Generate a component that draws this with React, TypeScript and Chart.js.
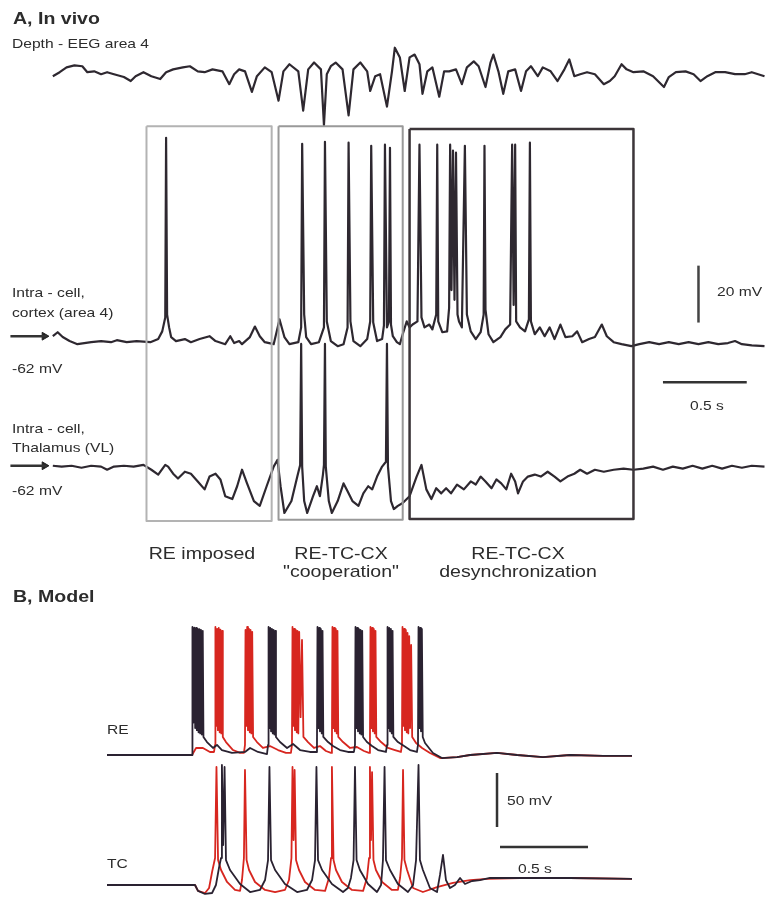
import React, { useEffect, useRef } from "react";
import { Chart, registerables } from "chart.js";
Chart.register(...registerables);

type P = [number, number];

// ---------- Panel A (time in s, voltage in mV; EEG in arbitrary units) ----------
const EEG: P[] = [
  [0.0, -0.7], [0.041, 0.7], [0.082, 2.4], [0.129, 3.1], [0.176, 2.8], [0.206, 0.7], [0.247, 1.0],
  [0.288, 0], [0.324, 0.7], [0.365, 0], [0.424, -1.0], [0.465, -2.4], [0.494, -0.7], [0.541, 0.7],
  [0.588, -0.7], [0.641, -1.7], [0.676, 0.7], [0.718, 1.7], [0.776, 2.4], [0.818, 2.8], [0.865, 1.0],
  [0.906, 0.7], [0.953, 1.7], [1.012, 1.0], [1.053, -3.5], [1.082, 0], [1.112, 1.7], [1.147, 1.0],
  [1.188, -6.2], [1.218, -0.7], [1.265, 2.4], [1.306, 0.7], [1.347, -9.3], [1.376, 1.0], [1.412, 3.5],
  [1.465, 1.0], [1.494, -12.8], [1.524, 1.7], [1.559, 4.1], [1.6, 1.7], [1.618, -17.9], [1.635, 0],
  [1.659, 2.8], [1.688, 4.1], [1.729, 1.7], [1.765, -14.5], [1.794, 1.7], [1.835, 4.1], [1.876, 1.0],
  [1.894, -5.9], [1.924, -0.7], [1.953, 0], [1.994, -11.4], [2.024, 1.0], [2.041, 9.3], [2.071, 5.9],
  [2.1, -5.9], [2.129, 5.9], [2.159, 6.9], [2.188, 3.5], [2.206, -6.9], [2.235, 1.0], [2.265, 2.4],
  [2.306, -7.9], [2.335, 1.0], [2.365, 1.0], [2.406, 1.7], [2.441, -3.5], [2.471, 2.4], [2.512, 4.5],
  [2.541, 2.8], [2.582, -4.5], [2.612, 4.1], [2.629, 6.9], [2.659, 1.0], [2.688, -6.9], [2.718, 1.0],
  [2.759, 1.7], [2.794, -5.9], [2.824, 1.0], [2.853, 2.8], [2.894, -0.7], [2.924, 2.4], [2.971, 1.0],
  [3.012, -2.4], [3.053, 1.7], [3.082, 5.2], [3.112, -0.7], [3.147, 0], [3.188, 0.7], [3.235, 0],
  [3.288, -3.5], [3.324, -2.4], [3.353, -0.7], [3.394, 3.5], [3.424, 1.7], [3.465, 0.7], [3.524, 1.0],
  [3.582, -0.7], [3.647, -4.5], [3.676, -1.0], [3.718, 0.7], [3.776, 1.0], [3.824, 0], [3.865, -2.4],
  [3.906, -0.7], [3.953, 0.7], [4.012, 0.7], [4.071, 0], [4.129, 0], [4.171, 0.7], [4.247, -0.7],
];

const CORTEX: P[] = [
  [0.0, -62.0], [0.029, -60.6], [0.059, -62.3], [0.1, -63.7], [0.147, -64.8], [0.229, -64.1],
  [0.288, -63.7], [0.347, -64.1], [0.382, -63.4], [0.441, -64.1], [0.5, -63.7], [0.582, -64.1],
  [0.629, -63.0], [0.653, -60.3], [0.671, -55.4], [0.676, 7.7], [0.682, -54.4], [0.694, -58.9],
  [0.706, -62.3], [0.735, -63.7], [0.788, -63.0], [0.824, -64.1], [0.876, -63.0], [0.935, -62.0],
  [0.971, -63.7], [1.029, -64.8], [1.059, -62.0], [1.082, -64.4], [1.112, -63.7], [1.129, -64.8],
  [1.176, -62.3], [1.206, -58.6], [1.235, -62.0], [1.265, -64.1], [1.318, -64.8], [1.353, -56.1],
  [1.382, -62.3], [1.412, -64.8], [1.465, -64.1], [1.482, -58.9], [1.488, 5.6], [1.5, -54.4],
  [1.512, -62.3], [1.541, -64.8], [1.588, -64.1], [1.618, -58.9], [1.624, 6.3], [1.635, -56.8],
  [1.659, -63.7], [1.7, -65.5], [1.735, -64.8], [1.759, -58.9], [1.765, 6.0], [1.776, -56.8],
  [1.794, -63.7], [1.835, -65.5], [1.876, -63.0], [1.894, -56.8], [1.9, 4.9], [1.912, -57.2],
  [1.935, -63.7], [1.965, -63.0], [1.976, -58.2], [1.982, 5.3], [1.994, -58.9], [2.006, -56.8],
  [2.012, 4.2], [2.018, -57.9], [2.029, -62.0], [2.053, -64.1], [2.071, -64.8], [2.088, -61.3],
  [2.112, -56.8], [2.129, -58.9], [2.147, -57.9], [2.176, -56.8], [2.188, 5.3], [2.2, -55.4],
  [2.218, -58.9], [2.247, -57.9], [2.265, -59.6], [2.288, -54.4], [2.294, 5.3], [2.3, -56.8],
  [2.324, -60.6], [2.353, -60.3], [2.365, -52.0], [2.371, 5.3], [2.379, -45.8], [2.388, 3.2],
  [2.397, -49.2], [2.406, 2.5], [2.415, -54.4], [2.424, -56.8], [2.441, -58.9], [2.459, 4.9],
  [2.471, -54.4], [2.494, -60.3], [2.524, -63.0], [2.553, -60.6], [2.571, -54.4], [2.576, 4.9],
  [2.582, -52.7], [2.6, -61.3], [2.629, -64.1], [2.671, -62.3], [2.7, -59.6], [2.729, -57.9],
  [2.741, 5.3], [2.75, -51.0], [2.759, 5.3], [2.765, -56.8], [2.788, -58.9], [2.818, -60.3],
  [2.841, -56.1], [2.847, 6.0], [2.853, -56.8], [2.876, -61.3], [2.906, -58.9], [2.935, -62.0],
  [2.965, -58.9], [2.994, -63.0], [3.029, -57.9], [3.059, -62.3], [3.1, -62.0], [3.129, -60.3],
  [3.159, -64.1], [3.2, -63.0], [3.235, -62.3], [3.276, -57.9], [3.306, -62.0], [3.347, -64.1],
  [3.394, -64.8], [3.453, -65.5], [3.5, -64.8], [3.559, -64.1], [3.618, -64.8], [3.676, -64.1],
  [3.735, -64.8], [3.794, -64.1], [3.853, -64.8], [3.912, -64.1], [3.971, -64.8], [4.029, -64.4],
  [4.071, -63.7], [4.112, -64.8], [4.171, -65.2], [4.247, -65.5],
];

const THALAMUS: P[] = [
  [0.0, -62.0], [0.053, -62.3], [0.112, -62.0], [0.171, -62.7], [0.229, -62.0], [0.288, -62.3],
  [0.324, -63.4], [0.365, -62.3], [0.424, -62.0], [0.482, -62.3], [0.541, -61.7], [0.588, -63.4],
  [0.629, -65.1], [0.671, -61.7], [0.688, -62.3], [0.718, -64.8], [0.747, -66.5], [0.788, -64.1],
  [0.824, -64.8], [0.865, -67.5], [0.906, -70.3], [0.935, -65.8], [0.971, -64.8], [1.0, -66.8],
  [1.029, -72.7], [1.071, -73.7], [1.1, -69.2], [1.129, -63.4], [1.159, -68.2], [1.2, -74.4],
  [1.235, -76.1], [1.276, -69.2], [1.318, -62.3], [1.341, -59.9], [1.359, -69.2], [1.382, -78.6],
  [1.424, -74.4], [1.459, -65.8], [1.476, -61.7], [1.482, -19.2], [1.488, -62.3], [1.5, -74.4],
  [1.518, -78.6], [1.553, -72.7], [1.576, -69.2], [1.594, -72.7], [1.612, -65.1], [1.618, -61.7],
  [1.624, -19.2], [1.629, -62.3], [1.647, -74.4], [1.665, -78.6], [1.7, -74.4], [1.735, -68.2],
  [1.759, -71.0], [1.788, -74.4], [1.824, -76.1], [1.853, -71.7], [1.882, -69.2], [1.906, -70.3],
  [1.935, -65.8], [1.965, -62.3], [1.988, -60.6], [1.994, -19.2], [2.0, -62.3], [2.018, -74.4],
  [2.035, -77.2], [2.059, -76.1], [2.088, -75.1], [2.129, -72.7], [2.171, -65.8], [2.2, -61.7],
  [2.229, -70.3], [2.259, -73.7], [2.288, -69.9], [2.318, -71.7], [2.347, -69.9], [2.376, -71.7],
  [2.412, -68.6], [2.453, -70.3], [2.494, -67.5], [2.524, -68.6], [2.553, -65.8], [2.582, -67.5],
  [2.618, -69.9], [2.647, -66.8], [2.676, -68.2], [2.706, -70.3], [2.735, -64.8], [2.759, -67.5],
  [2.776, -71.7], [2.806, -67.5], [2.835, -65.8], [2.876, -65.1], [2.912, -65.8], [2.953, -64.1],
  [2.994, -65.8], [3.029, -67.5], [3.071, -65.8], [3.112, -64.8], [3.147, -63.4], [3.188, -64.8],
  [3.235, -63.4], [3.288, -64.1], [3.347, -63.4], [3.406, -63.0], [3.465, -63.4], [3.524, -63.0],
  [3.582, -62.3], [3.641, -63.4], [3.7, -62.3], [3.759, -63.0], [3.818, -62.0], [3.876, -63.0],
  [3.935, -62.0], [3.994, -63.0], [4.053, -62.0], [4.112, -62.7], [4.171, -62.0], [4.247, -62.3],
];

// epochs (s) of the three boxes and their labels
const EPOCH_START = [0.559, 1.347, 2.129];
const EPOCH_END = [1.306, 2.088, 3.465];
const EPOCH_LABELS = [["RE imposed"], ["RE-TC-CX", "\"cooperation\""], ["RE-TC-CX", "desynchronization"]];

// ---------- Panel B, Model (time in s, voltage in mV) ----------
const RE_BLACK: P[] = [
  [0.0, -75.0], [0.483, -75.0], [0.484, -68.0],
  [0.487, 43.5], [0.4915, -45.0], [0.496, 43.0], [0.501, -50.0], [0.506, 42.6], [0.5105, -52.0],
  [0.515, 42.0], [0.52, -54.0], [0.525, 41.5], [0.5295, -55.0], [0.534, 40.8], [0.539, -56.0],
  [0.544, 40.0], [0.548, -58.3],
  [0.568, -63.0], [0.602, -68.5], [0.625, -65.7], [0.653, -70.4], [0.71, -73.1], [0.784, -72.2],
  [0.813, -68.5], [0.858, -72.2], [0.909, -74.1], [0.915, -65.7],
  [0.918, 43.5], [0.923, -50.0], [0.9275, 42.6], [0.932, -53.0], [0.937, 41.7], [0.942, -55.0],
  [0.9465, 40.8], [0.951, -56.0], [0.956, 40.0], [0.96, -58.3],
  [0.983, -63.0], [1.023, -68.5], [1.057, -64.8], [1.097, -70.4], [1.153, -72.2], [1.188, -72.2],
  [1.193, -65.7],
  [1.196, 43.5], [1.201, -50.0], [1.2055, 42.6], [1.21, -53.0], [1.215, 41.7], [1.22, -55.0],
  [1.2245, 40.0], [1.229, -58.3],
  [1.256, -63.0], [1.284, -66.7], [1.324, -70.4], [1.369, -72.2], [1.403, -72.2], [1.409, -65.7],
  [1.412, 43.5], [1.417, -50.0], [1.4215, 42.6], [1.426, -53.0], [1.431, 41.7], [1.436, -55.0],
  [1.4405, 40.8], [1.445, -56.0], [1.45, 40.0], [1.455, -58.3],
  [1.477, -63.0], [1.506, -66.7], [1.54, -70.4], [1.585, -72.2], [1.591, -65.7],
  [1.594, 43.5], [1.599, -50.0], [1.6035, 42.6], [1.608, -53.0], [1.613, 41.7], [1.618, -55.0],
  [1.6225, 40.0], [1.627, -58.3],
  [1.653, -63.0], [1.688, -66.7], [1.722, -70.4], [1.761, -72.2], [1.767, -65.7],
  [1.77, 43.5], [1.775, -50.0], [1.7795, 42.6], [1.784, -53.0], [1.789, 41.7], [1.794, -58.3],
  [1.807, -63.9], [1.852, -73.1], [1.903, -77.8], [1.989, -76.9], [2.063, -75.0], [2.216, -73.1],
  [2.33, -75.0], [2.477, -76.9], [2.631, -75.0], [2.818, -75.9], [2.983, -75.9],
];

const RE_RED: P[] = [
  [0.0, -75.0], [0.483, -75.0], [0.506, -68.5], [0.545, -68.5], [0.585, -72.2], [0.608, -72.2],
  [0.614, -65.7],
  [0.616, 43.5], [0.621, -48.0], [0.6255, 41.7], [0.63, -52.0], [0.635, 42.6], [0.64, -54.0],
  [0.6445, 41.0], [0.649, -55.0], [0.654, 40.0], [0.658, -58.3],
  [0.676, -63.0], [0.716, -70.4], [0.756, -73.1], [0.778, -73.1], [0.784, -65.7],
  [0.787, 40.8], [0.792, -48.0], [0.7965, 43.5], [0.801, -52.0], [0.806, 42.0], [0.811, -54.0],
  [0.8155, 40.8], [0.82, -55.0], [0.825, 39.0], [0.83, -58.3],
  [0.852, -63.0], [0.886, -68.5], [0.926, -66.7], [0.972, -70.4], [1.017, -73.1], [1.045, -73.1],
  [1.051, -65.7],
  [1.054, 43.5], [1.059, -48.0], [1.0635, 41.7], [1.068, -52.0], [1.073, 40.8], [1.078, -54.0],
  [1.0825, 39.9], [1.087, -55.0], [1.092, 38.9], [1.1, -40.0], [1.108, 31.5], [1.116, -58.3],
  [1.142, -63.0], [1.176, -68.5], [1.21, -66.7], [1.244, -71.3], [1.273, -73.1], [1.278, -65.7],
  [1.281, 43.5], [1.286, -50.0], [1.2905, 42.6], [1.295, -53.0], [1.3, 41.7], [1.305, -55.0],
  [1.3095, 40.0], [1.314, -58.3],
  [1.341, -63.0], [1.381, -68.5], [1.42, -67.6], [1.46, -71.3], [1.489, -73.1], [1.494, -65.7],
  [1.497, 43.5], [1.502, -50.0], [1.5065, 42.6], [1.511, -53.0], [1.516, 41.7], [1.521, -55.0],
  [1.5255, 40.0], [1.53, -58.3],
  [1.557, -63.0], [1.597, -68.5], [1.636, -70.4], [1.67, -72.2], [1.676, -65.7],
  [1.679, 43.5], [1.684, -48.0], [1.6885, 41.7], [1.693, -52.0], [1.698, 40.8], [1.703, -54.0],
  [1.7075, 38.0], [1.712, -55.0], [1.717, 35.0], [1.722, -50.0], [1.728, 26.9], [1.734, -58.3],
  [1.756, -63.9], [1.79, -68.5], [1.835, -73.1], [1.892, -77.8], [1.989, -76.9], [2.063, -75.0],
  [2.216, -73.1], [2.33, -75.0], [2.477, -76.9], [2.631, -75.0], [2.818, -75.9], [2.983, -75.9],
];

const TC_BLACK: P[] = [
  [0.0, -65.0], [0.5, -65.0], [0.517, -70.5], [0.557, -73.3], [0.597, -72.4], [0.619, -65.0],
  [0.636, -49.3], [0.648, -40.0], [0.653, 46.1], [0.66, -28.0], [0.668, 44.3], [0.676, -41.9],
  [0.699, -51.1], [0.756, -64.1], [0.813, -71.5], [0.869, -69.6], [0.898, -60.4], [0.915, -41.9],
  [0.923, 44.3], [0.932, -41.9], [0.955, -51.1], [1.011, -64.1], [1.08, -71.5], [1.136, -69.6],
  [1.165, -60.4], [1.182, -41.9], [1.19, 44.3], [1.199, -41.9], [1.222, -51.1], [1.278, -64.1],
  [1.341, -71.5], [1.369, -67.8], [1.386, -58.5], [1.401, -41.9], [1.409, 44.3], [1.418, -41.9],
  [1.437, -51.1], [1.483, -64.1], [1.534, -71.5], [1.557, -65.0], [1.568, -41.9], [1.577, 44.3],
  [1.585, -41.9], [1.608, -51.1], [1.653, -64.1], [1.71, -71.5], [1.739, -65.0], [1.756, -41.9],
  [1.77, 46.1], [1.778, -41.9], [1.795, -51.1], [1.835, -67.8], [1.875, -71.5], [1.892, -55.7],
  [1.909, -37.2], [1.926, -60.4], [1.949, -67.8], [1.977, -65.0], [2.006, -58.5], [2.034, -64.1],
  [2.074, -61.3], [2.119, -60.4], [2.176, -58.5], [2.347, -58.5], [2.631, -58.5], [2.983, -59.4],
];

const TC_RED: P[] = [
  [0.0, -65.0], [0.5, -65.0], [0.517, -70.5], [0.557, -72.4], [0.58, -67.8], [0.597, -53.0],
  [0.614, -40.0], [0.622, 44.3], [0.631, -41.9], [0.648, -51.1], [0.682, -62.2], [0.727, -69.6],
  [0.756, -70.5], [0.767, -60.4], [0.778, -40.0], [0.784, 41.5], [0.793, -41.9], [0.807, -51.1],
  [0.841, -62.2], [0.898, -69.6], [0.955, -71.5], [1.011, -69.6], [1.034, -60.4], [1.048, -40.0],
  [1.054, 44.3], [1.06, -23.4], [1.066, 41.5], [1.074, -41.9], [1.091, -51.1], [1.125, -62.2],
  [1.182, -69.6], [1.239, -70.5], [1.261, -58.5], [1.273, -40.0], [1.278, 44.3], [1.287, -41.9],
  [1.301, -51.1], [1.335, -62.2], [1.392, -69.6], [1.455, -70.5], [1.477, -58.5], [1.489, -40.0],
  [1.494, 44.3], [1.5, -23.4], [1.506, 39.6], [1.514, -41.9], [1.528, -51.1], [1.563, -62.2],
  [1.619, -69.6], [1.653, -69.6], [1.665, -58.5], [1.676, -40.0], [1.682, 41.5], [1.69, -41.9],
  [1.705, -51.1], [1.739, -67.8], [1.795, -71.5], [1.875, -66.9], [1.966, -63.1], [2.063, -60.4],
  [2.159, -59.4], [2.347, -58.5], [2.631, -58.5], [2.983, -59.4],
];

// scale bars
const SCALE_A_MV = 20;
const SCALE_A_S = 0.5;
const SCALE_B_MV = 50;
const SCALE_B_S = 0.5;
const REST_MV = -62;

const FONT = '"Liberation Sans", Arial, Helvetica, sans-serif';
const INK = "#2e2830";
const RED = "#d7261f";
const MODEL_INK = "#2a2231";

const xy = (a: P[]) => a.map(([x, y]) => ({ x, y }));

function trace(data: P[], yAxisID: string, color: string, width = 2) {
  return {
    type: "line" as const,
    data: xy(data),
    yAxisID,
    borderColor: color,
    borderWidth: width,
    pointRadius: 0,
    tension: 0,
    fill: false,
    clip: false as any,
    borderJoinStyle: "round" as const,
  };
}

function segment(x1: number, y1: number, x2: number, y2: number, yAxisID: string, color: string, width: number) {
  return trace([[x1, y1], [x2, y2]], yAxisID, color, width);
}

function PanelA() {
  const ref = useRef<HTMLCanvasElement>(null);
  useEffect(() => {
    const pxPerS = 170;
    const pxPerMV = 2.9;
    const H = 590;
    const cxMax = REST_MV + 337 / pxPerMV;
    const thMax = REST_MV + 469 / pxPerMV;
    const eegMax = 70 / pxPerMV;
    const span = H / pxPerMV;
    const boxColors = ["#b3b3b3", "#999999", "#3c3539"];
    const boxWidths = [2, 2, 2.5];
    const boxTop = [11.8, 11.8, 10.8];
    const boxBottom = [-126.9, -126.5, -126.2];
    const datasets: any[] = [];
    EPOCH_START.forEach((s, i) => {
      const e = EPOCH_END[i];
      datasets.push(
        trace(
          [[s, boxTop[i]], [e, boxTop[i]], [e, boxBottom[i]], [s, boxBottom[i]], [s, boxTop[i]]],
          "yCx",
          boxColors[i],
          boxWidths[i]
        )
      );
    });
    datasets.push(trace(EEG, "yEeg", INK, 2.2));
    datasets.push(trace(CORTEX, "yCx", INK, 2.2));
    datasets.push(trace(THALAMUS, "yTh", INK, 2.2));
    // arrows at -62 mV
    datasets.push(segment(-0.253, REST_MV, -0.035, REST_MV, "yCx", "#333", 2.5));
    datasets.push(segment(-0.253, REST_MV, -0.035, REST_MV, "yTh", "#333", 2.5));
    for (const ax of ["yCx", "yTh"]) {
      datasets.push({
        type: "line",
        data: [{ x: -0.05, y: REST_MV }],
        yAxisID: ax,
        showLine: false,
        pointStyle: "triangle",
        rotation: 90,
        pointRadius: 4.5,
        pointBackgroundColor: "#222",
        pointBorderColor: "#222",
        clip: false,
      });
    }
    // scale bars
    const sbT = 3.853;
    datasets.push(segment(sbT, -57.2, sbT, -57.2 + SCALE_A_MV, "yCx", "#444", 2.5));
    datasets.push(segment(3.641, -78.2, 3.641 + SCALE_A_S, -78.2, "yCx", "#333", 2.5));

    const chart = new Chart(ref.current!, {
      type: "line",
      data: { datasets },
      options: {
        animation: false,
        responsive: false,
        devicePixelRatio: 1,
        events: [],
        layout: { padding: 0 },
        plugins: { legend: { display: false }, tooltip: { enabled: false }, title: { display: false } },
        scales: {
          x: { type: "linear", display: false, min: -48 / pxPerS, max: 723 / pxPerS },
          yCx: { type: "linear", display: false, min: cxMax - span, max: cxMax },
          yTh: { type: "linear", display: false, min: thMax - span, max: thMax },
          yEeg: { type: "linear", display: false, min: eegMax - span, max: eegMax },
        },
      } as any,
    });
    return () => chart.destroy();
  }, []);
  return (
    <canvas
      ref={ref}
      width={771}
      height={590}
      style={{ position: "absolute", left: 0, top: 0, width: 771, height: 590 }}
    />
  );
}

function PanelB() {
  const ref = useRef<HTMLCanvasElement>(null);
  useEffect(() => {
    const pxPerS = 176;
    const pxPerMV = 1.08;
    const H = 301;
    const span = H / pxPerMV;
    const reMax = -75 + 155 / pxPerMV;
    const tcMax = -65 + 285 / pxPerMV;
    const datasets: any[] = [
      trace(RE_BLACK, "yRe", MODEL_INK, 1.8),
      trace(RE_RED, "yRe", RED, 1.8),
      trace(TC_BLACK, "yTc", MODEL_INK, 1.8),
      trace(TC_RED, "yTc", RED, 1.8),
      segment(2.216, -11.3, 2.216, -11.3 + SCALE_B_MV, "yTc", "#333", 2.5),
      segment(2.233, -29.8, 2.233 + SCALE_B_S, -29.8, "yTc", "#333", 2.5),
    ];
    const chart = new Chart(ref.current!, {
      type: "line",
      data: { datasets },
      options: {
        animation: false,
        responsive: false,
        devicePixelRatio: 1,
        events: [],
        layout: { padding: 0 },
        plugins: { legend: { display: false }, tooltip: { enabled: false } },
        scales: {
          x: { type: "linear", display: false, min: -107 / pxPerS, max: 664 / pxPerS },
          yRe: { type: "linear", display: false, min: reMax - span, max: reMax },
          yTc: { type: "linear", display: false, min: tcMax - span, max: tcMax },
        },
      } as any,
    });
    return () => chart.destroy();
  }, []);
  return (
    <canvas
      ref={ref}
      width={771}
      height={301}
      style={{ position: "absolute", left: 0, top: 600, width: 771, height: 301 }}
    />
  );
}

type TProps = {
  left: number;
  top: number;
  size: number;
  bold?: boolean;
  lh?: number;
  sx?: number;
  center?: boolean;
  children: React.ReactNode;
};

function Txt({ left, top, size, bold, lh, sx = 1.2, center, children }: TProps) {
  const w = 240;
  return (
    <div
      style={{
        position: "absolute",
        left: center ? left - w / 2 : left,
        top,
        width: center ? w : undefined,
        textAlign: center ? "center" : "left",
        fontFamily: FONT,
        fontSize: size,
        fontWeight: bold ? 700 : 400,
        lineHeight: lh ? `${lh}px` : 1,
        color: "#2c2c2c",
        whiteSpace: "pre",
        transform: `scaleX(${sx})`,
        transformOrigin: center ? "center top" : "left top",
      }}
    >
      {children}
    </div>
  );
}

export default function App() {
  const labelCenters = [201.5, 341, 518];
  return (
    <div
      style={{
        position: "absolute",
        left: 0,
        top: 0,
        width: 771,
        height: 901,
        background: "#fff",
        overflow: "hidden",
      }}
    >
      <PanelA />
      <PanelB />
      <Txt left={13} top={10} size={17} bold sx={1.15}>A, In vivo</Txt>
      <Txt left={12} top={36.5} size={13}>Depth - EEG area 4</Txt>
      <Txt left={12} top={283} size={13} lh={20}>{"Intra - cell,\ncortex (area 4)"}</Txt>
      <Txt left={12} top={362} size={13}>-62 mV</Txt>
      <Txt left={12} top={418.5} size={13} lh={19}>{"Intra - cell,\nThalamus (VL)"}</Txt>
      <Txt left={12} top={483.5} size={13}>-62 mV</Txt>
      <Txt left={717} top={284.5} size={13}>{SCALE_A_MV} mV</Txt>
      <Txt left={690} top={398.5} size={13}>{SCALE_A_S} s</Txt>
      {EPOCH_LABELS.map((lines, i) => (
        <Txt key={i} left={labelCenters[i]} top={545} size={17} lh={17.5} sx={1.15} center>
          {lines.join("\n")}
        </Txt>
      ))}
      <Txt left={13} top={588} size={17} bold sx={1.15}>B, Model</Txt>
      <Txt left={107} top={722.5} size={13}>RE</Txt>
      <Txt left={107} top={856.5} size={13}>TC</Txt>
      <Txt left={507} top={793.5} size={13}>{SCALE_B_MV} mV</Txt>
      <Txt left={518} top={862} size={13}>{SCALE_B_S} s</Txt>
    </div>
  );
}
